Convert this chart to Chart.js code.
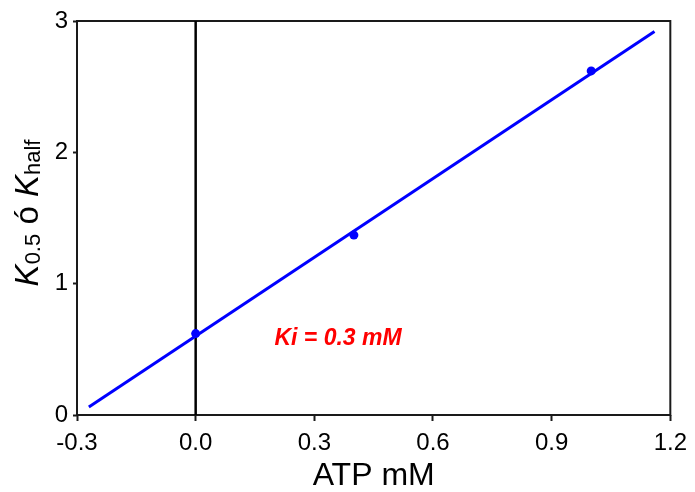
<!DOCTYPE html>
<html>
<head>
<meta charset="utf-8">
<script src="https://cdn.jsdelivr.net/npm/chart.js@4.4.1/dist/chart.umd.min.js"></script>
<style>
  html, body { margin: 0; padding: 0; background: #ffffff; }
  #wrap { width: 695px; height: 492px; position: relative; }
</style>
</head>
<body>
<div id="wrap"><canvas id="c" width="695" height="492"></canvas></div>
<script>
// Measured points: K0.5 (Khalf) against ATP concentration
const atpConc = [0.0, 0.4, 1.0];
const kHalf = [0.62, 1.37, 2.62];

// End points of the fitted straight line
const fitAtp = [-0.27, 1.16];
const fitK = [0.06, 2.92];

// Vertical reference line at ATP = 0
const zeroLineX = [0, 0];
const zeroLineY = [0, 3];

// Axis ticks
const xTickValues = [-0.3, 0.0, 0.3, 0.6, 0.9, 1.2];
const xTickLabels = ['-0.3', '0.0', '0.3', '0.6', '0.9', '1.2'];
const yTickValues = [0, 1, 2, 3];
const yTickLabels = ['0', '1', '2', '3'];

// Annotation and titles
const kiText = 'Ki = 0.3 mM';
const kiPos = [0.36, 0.58];
const xTitle = 'ATP mM';
const yTitleParts = [
  { text: 'K', style: 'italic', sub: false },
  { text: '0.5', style: 'normal', sub: true },
  { text: ' ó ', style: 'normal', sub: false },
  { text: 'K', style: 'italic', sub: false },
  { text: 'half', style: 'normal', sub: true }
];

const FONT = '"Liberation Sans", Arial, sans-serif';

const toPoints = (xs, ys) => xs.map((x, i) => ({ x: x, y: ys[i] }));

// Box around the plotting area
const framePlugin = {
  id: 'frame',
  beforeDatasetsDraw(chart) {
    const { ctx, chartArea: a } = chart;
    ctx.save();
    ctx.strokeStyle = '#1a1a1a';
    ctx.lineWidth = 2;
    ctx.strokeRect(a.left, a.top, a.right - a.left, a.bottom - a.top);
    ctx.restore();
  }
};

// Red Ki annotation placed in data coordinates
const kiPlugin = {
  id: 'kiLabel',
  afterDatasetsDraw(chart) {
    const { ctx, scales } = chart;
    const px = scales.x.getPixelForValue(kiPos[0]);
    const py = scales.y.getPixelForValue(kiPos[1]);
    ctx.save();
    ctx.font = 'italic bold 23px ' + FONT;
    ctx.fillStyle = '#ff0000';
    ctx.textAlign = 'center';
    ctx.textBaseline = 'middle';
    ctx.fillText(kiText, px, py);
    ctx.restore();
  }
};

// Rotated y title with subscripts
const yTitlePlugin = {
  id: 'yTitle',
  afterDraw(chart) {
    const { ctx, chartArea: a } = chart;
    const mainSize = 33, subSize = 22;
    const fontFor = p => (p.style === 'italic' ? 'italic ' : '') + (p.sub ? subSize : mainSize) + 'px ' + FONT;
    ctx.save();
    let total = 0;
    const widths = yTitleParts.map(p => { ctx.font = fontFor(p); const w = ctx.measureText(p.text).width; total += w; return w; });
    const centerY = (a.top + a.bottom) / 2 - 5;
    ctx.rotate(-Math.PI / 2);
    ctx.fillStyle = '#000000';
    ctx.textAlign = 'left';
    ctx.textBaseline = 'alphabetic';
    let x = -(centerY + total / 2);
    const baseline = 38;
    yTitleParts.forEach((p, i) => {
      ctx.font = fontFor(p);
      ctx.fillText(p.text, x, baseline + (p.sub ? 2 : 0));
      x += widths[i];
    });
    ctx.restore();
  }
};

new Chart(document.getElementById('c'), {
  type: 'scatter',
  data: {
    datasets: [
      {
        label: 'fit',
        data: toPoints(fitAtp, fitK),
        showLine: true,
        borderColor: '#0000ff',
        borderWidth: 3,
        pointRadius: 0,
        fill: false
      },
      {
        label: 'measured',
        data: toPoints(atpConc, kHalf),
        showLine: false,
        pointRadius: 4.5,
        pointBackgroundColor: '#0000ff',
        pointBorderColor: '#0000ff',
        pointBorderWidth: 0
      },
      {
        label: 'zero',
        data: toPoints(zeroLineX, zeroLineY),
        showLine: true,
        borderColor: '#000000',
        borderWidth: 2.5,
        pointRadius: 0,
        fill: false
      }
    ]
  },
  options: {
    responsive: false,
    animation: false,
    layout: { padding: { top: 21, right: 23, left: 0, bottom: 0 } },
    plugins: { legend: { display: false }, tooltip: { enabled: false } },
    scales: {
      x: {
        type: 'linear',
        min: -0.3,
        max: 1.2,
        afterBuildTicks: s => { s.ticks = xTickValues.map(v => ({ value: v })); },
        afterFit: s => { s.height = 77; },
        border: { display: false },
        grid: { drawOnChartArea: false, drawTicks: true, tickLength: 6, tickColor: '#1a1a1a', tickWidth: 2, color: '#1a1a1a' },
        ticks: {
          padding: 8,
          color: '#000000',
          font: { family: FONT, size: 24 },
          maxRotation: 0,
          autoSkip: false,
          callback: (v, i) => xTickLabels[i]
        },
        title: {
          display: true,
          text: xTitle,
          color: '#000000',
          font: { family: FONT, size: 32, lineHeight: 1 },
          padding: { top: 0, bottom: 0 }
        }
      },
      y: {
        type: 'linear',
        min: 0,
        max: 3,
        afterBuildTicks: s => { s.ticks = yTickValues.map(v => ({ value: v })); },
        afterFit: s => { s.width = 77; },
        border: { display: false },
        grid: { drawOnChartArea: false, drawTicks: true, tickLength: 4, tickColor: '#1a1a1a', tickWidth: 2, color: '#1a1a1a' },
        ticks: {
          padding: 5,
          color: '#000000',
          font: { family: FONT, size: 24 },
          autoSkip: false,
          callback: (v, i) => yTickLabels[i]
        }
      }
    }
  },
  plugins: [framePlugin, kiPlugin, yTitlePlugin]
});
</script>
</body>
</html>
